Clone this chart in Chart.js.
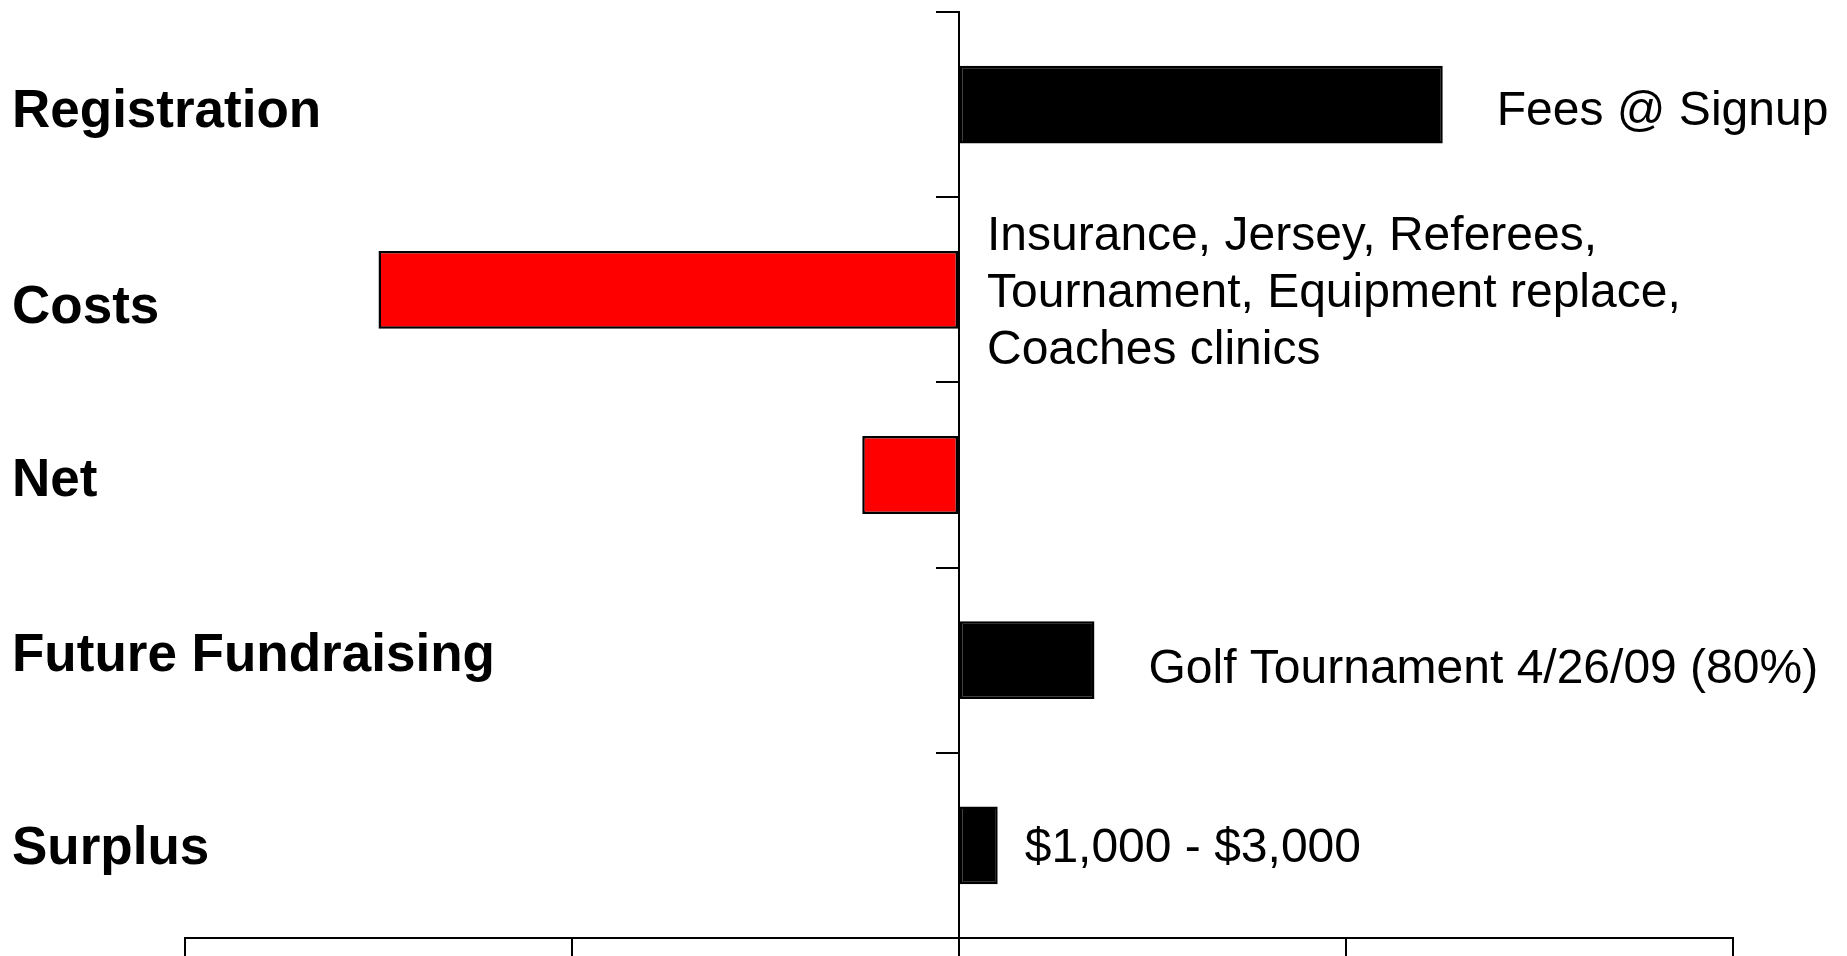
<!DOCTYPE html>
<html>
<head>
<meta charset="utf-8">
<script src="https://cdn.jsdelivr.net/npm/chart.js@4.4.1/dist/chart.umd.min.js"></script>
<style>
  html, body { margin: 0; padding: 0; background: #ffffff; }
  #wrap { width: 1847px; height: 956px; position: relative; }
</style>
</head>
<body>
<div id="wrap"><canvas id="c" width="1847" height="956"></canvas></div>
<script>
// ---- data ----
const categories = ['Registration', 'Costs', 'Net', 'Future Fundraising', 'Surplus'];
const values = [12500, -15000, -2500, 3500, 1000];
const notes = [
  ['Fees @ Signup'],
  ['Insurance, Jersey, Referees,', 'Tournament, Equipment replace,', 'Coaches clinics'],
  [],
  ['Golf Tournament 4/26/09 (80%)'],
  ['$1,000 - $3,000']
];
const xTicks = [-20000, -10000, 0, 10000, 20000];

// ---- styling helpers (not data) ----
const barColors = values.map(v => v < 0 ? '#ff0000' : '#000000');
const labelBaselineOffset = [22, 33, 21, 11, 19];
const noteGap = [54, 28, 0, 54, 27];
const noteBaselineOffset = [20, -40, 0, 23, 17];
const noteLineHeight = 57;

const textPlugin = {
  id: 'textPlugin',
  afterDraw(chart) {
    const ctx = chart.ctx;
    const xs = chart.scales.x, ys = chart.scales.y;
    ctx.save();
    ctx.fillStyle = '#000000';
    ctx.textBaseline = 'alphabetic';
    ctx.textAlign = 'left';
    // category labels on the left
    ctx.font = 'bold 53px "Liberation Sans", Arial, sans-serif';
    categories.forEach((c, i) => {
      const y = ys.getPixelForValue(i) + labelBaselineOffset[i];
      ctx.fillText(c, 12, y);
    });
    // notes beside the bars
    ctx.font = '48px "Liberation Sans", Arial, sans-serif';
    notes.forEach((lines, i) => {
      if (!lines.length) return;
      const x = xs.getPixelForValue(Math.max(values[i], 0)) + noteGap[i];
      const y0 = ys.getPixelForValue(i) + noteBaselineOffset[i];
      lines.forEach((t, k) => ctx.fillText(t, x, y0 + k * noteLineHeight));
    });
    ctx.restore();
  }
};

new Chart(document.getElementById('c'), {
  type: 'bar',
  data: {
    labels: categories,
    datasets: [{
      data: values,
      backgroundColor: barColors,
      borderColor: '#000000',
      borderWidth: 2.5,
      borderSkipped: false,
      categoryPercentage: 1,
      barPercentage: 0.42
    }]
  },
  options: {
    indexAxis: 'y',
    responsive: false,
    animation: false,
    devicePixelRatio: 1,
    layout: { padding: { left: 185, right: 114, top: 12, bottom: 0 } },
    plugins: { legend: { display: false }, tooltip: { enabled: false }, title: { display: false } },
    scales: {
      x: {
        type: 'linear',
        position: 'bottom',
        min: xTicks[0],
        max: xTicks[xTicks.length - 1],
        afterBuildTicks: (s) => { s.ticks = xTicks.map(v => ({ value: v })); },
        ticks: { display: false },
        grid: { drawOnChartArea: false, drawTicks: true, tickLength: 18, color: '#000000', lineWidth: 2 },
        border: { display: true, color: '#000000', width: 2 }
      },
      y: {
        type: 'category',
        position: { x: 0 },
        offset: true,
        afterFit: (s) => { s.width = 0; },
        ticks: { display: false },
        grid: { offset: true, drawOnChartArea: false, drawTicks: true, tickLength: 22, color: '#000000', lineWidth: 2 },
        border: { display: true, color: '#000000', width: 2 }
      }
    }
  },
  plugins: [textPlugin]
});
</script>
</body>
</html>
